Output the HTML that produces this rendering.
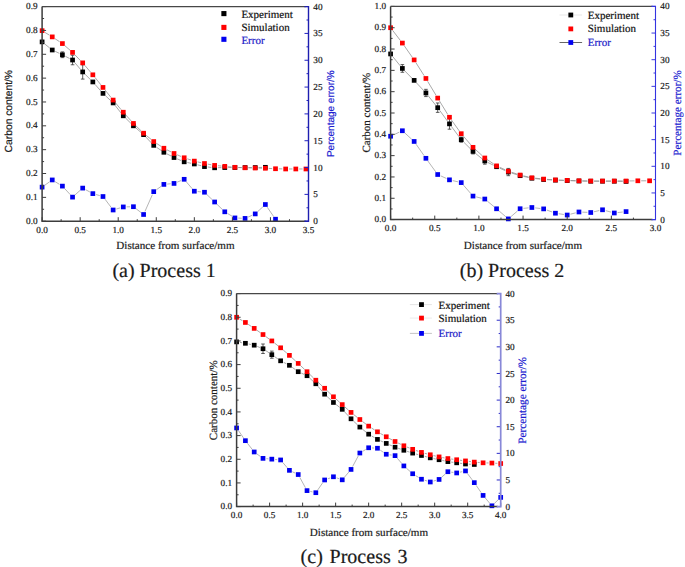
<!DOCTYPE html>
<html><head><meta charset="utf-8"><title>Carbon content profiles</title>
<style>html,body{margin:0;padding:0;background:#fff;}body{width:685px;height:567px;overflow:hidden;}svg{display:block;font-family:"Liberation Serif", serif;text-rendering:geometricPrecision;}text{stroke-width:0.2px;stroke-linejoin:round;}</style></head><body>
<svg width="685" height="567" viewBox="0 0 685 567" fill="#1a1a1a">
<rect width="685" height="567" fill="#fff"/>
<path d="M44.83 185.2L49.51 181.88M55.11 181.68L59.53 184.37M64.67 188.57L70.27 194.65M75.05 194.89L80.19 190.32M85.64 189.7L89.9 192.02M96.06 194.54L99.77 195.6M105.01 199.2L111.12 207.31M116.35 209.02L120.08 207.9M126.64 206.86L130.09 206.79M136.1 208.75L140.93 212.46M144.95 211.43L152.37 194.7M156.46 189.69L161.16 186.34M167.22 184.08L170.7 183.75M177.13 182.17L181.08 180.56M186.35 181.85L192.16 188.66M197.66 191.54L201.14 191.89M206.89 194.55L212.21 199.67M217.03 204.32L222.37 209.48M227.64 213.54L232.05 216.2M238.27 218.09L241.73 218.25M248.13 217.05L252.16 215.26M257.68 211.63L262.91 206.79M267.27 207.27L273.61 216.46" fill="none" stroke="#9c9c9c" stroke-width="0.75"/>
<path d="M44.72 43.98L49.63 47.91M55.28 51.42L59.37 53.34M65.37 56.3L69.57 58.47M74.72 62.56L80.52 69.38M85.08 74.29L90.46 79.6M95.07 84.45L100.77 90.89M105.43 95.69L110.7 100.64M115.21 105.56L121.21 113.18M125.67 118.16L131.05 123.47M135.97 128.02L141.06 132.45M145.89 137.08L151.43 142.94M156.5 147.26L161.11 150.4M166.86 153.83L171.06 156M177.12 158.84L181.09 160.52M187.46 162.52L191.05 163.28M197.57 164.81L201.23 165.76M207.8 166.99L211.3 167.4M217.97 167.71L221.43 167.63M228.12 167.55L231.57 167.55M238.27 167.55L241.72 167.55M248.42 167.55L251.87 167.55M258.57 167.47L262.02 167.39" fill="none" stroke="#8c8c8c" stroke-width="0.75"/>
<path d="M44.96 32.43L49.39 35.14M55.05 38.72L59.6 41.72M64.93 45.76L70.02 50.18M74.87 54.79L80.37 60.47M84.87 65.42L90.67 72.24M94.94 77.41L100.89 84.82M105.09 90.04L111.04 97.46M115.29 102.64L121.14 109.66M125.54 114.71L131.19 120.95M135.85 125.76L141.17 130.89M146.17 135.34L151.15 139.43M156.53 143.4L161.08 146.39M166.86 149.77L171.06 151.94M177.12 154.79L181.09 156.47M187.36 158.82L191.15 160.07M197.59 161.88L201.22 162.73M207.77 164.12L211.33 164.79M217.96 165.72L221.44 166.04M228.11 166.67L231.59 167M238.27 167.47L241.73 167.63M248.42 167.87L251.87 167.95M258.57 168.11L262.02 168.19M268.71 168.42L272.17 168.58M278.87 168.82L282.32 168.9M289.02 168.98L292.46 168.98M299.16 168.98L302.61 168.98" fill="none" stroke="#8c8c8c" stroke-width="0.75"/>
<path d="M62.4 51.9V57.63M60.6 51.9H64.2M60.6 57.63H64.2" stroke="#333" stroke-width="0.8" fill="none"/>
<path d="M72.55 55.24V64.78M70.75 55.24H74.35M70.75 64.78H74.35" stroke="#333" stroke-width="0.8" fill="none"/>
<path d="M82.69 64.78V79.09M80.89 64.78H84.49M80.89 79.09H84.49" stroke="#333" stroke-width="0.8" fill="none"/>
<rect x="39.75" y="39.54" width="4.7" height="4.7" fill="#000"/>
<rect x="49.9" y="47.65" width="4.7" height="4.7" fill="#000"/>
<rect x="60.05" y="52.42" width="4.7" height="4.7" fill="#000"/>
<rect x="70.2" y="57.66" width="4.7" height="4.7" fill="#000"/>
<rect x="80.34" y="69.58" width="4.7" height="4.7" fill="#000"/>
<rect x="90.49" y="79.6" width="4.7" height="4.7" fill="#000"/>
<rect x="100.64" y="91.04" width="4.7" height="4.7" fill="#000"/>
<rect x="110.79" y="100.58" width="4.7" height="4.7" fill="#000"/>
<rect x="120.94" y="113.46" width="4.7" height="4.7" fill="#000"/>
<rect x="131.09" y="123.47" width="4.7" height="4.7" fill="#000"/>
<rect x="141.24" y="132.29" width="4.7" height="4.7" fill="#000"/>
<rect x="151.38" y="143.02" width="4.7" height="4.7" fill="#000"/>
<rect x="161.53" y="149.94" width="4.7" height="4.7" fill="#000"/>
<rect x="171.68" y="155.19" width="4.7" height="4.7" fill="#000"/>
<rect x="181.83" y="159.48" width="4.7" height="4.7" fill="#000"/>
<rect x="191.98" y="161.62" width="4.7" height="4.7" fill="#000"/>
<rect x="202.13" y="164.25" width="4.7" height="4.7" fill="#000"/>
<rect x="212.28" y="165.44" width="4.7" height="4.7" fill="#000"/>
<rect x="222.42" y="165.2" width="4.7" height="4.7" fill="#000"/>
<rect x="232.57" y="165.2" width="4.7" height="4.7" fill="#000"/>
<rect x="242.72" y="165.2" width="4.7" height="4.7" fill="#000"/>
<rect x="252.87" y="165.2" width="4.7" height="4.7" fill="#000"/>
<rect x="263.02" y="164.96" width="4.7" height="4.7" fill="#000"/>
<rect x="39.75" y="28.33" width="4.7" height="4.7" fill="#f00"/>
<rect x="49.9" y="34.53" width="4.7" height="4.7" fill="#f00"/>
<rect x="60.05" y="41.21" width="4.7" height="4.7" fill="#f00"/>
<rect x="70.2" y="50.03" width="4.7" height="4.7" fill="#f00"/>
<rect x="80.34" y="60.52" width="4.7" height="4.7" fill="#f00"/>
<rect x="90.49" y="72.45" width="4.7" height="4.7" fill="#f00"/>
<rect x="100.64" y="85.08" width="4.7" height="4.7" fill="#f00"/>
<rect x="110.79" y="97.72" width="4.7" height="4.7" fill="#f00"/>
<rect x="120.94" y="109.88" width="4.7" height="4.7" fill="#f00"/>
<rect x="131.09" y="121.09" width="4.7" height="4.7" fill="#f00"/>
<rect x="141.24" y="130.86" width="4.7" height="4.7" fill="#f00"/>
<rect x="151.38" y="139.21" width="4.7" height="4.7" fill="#f00"/>
<rect x="161.53" y="145.89" width="4.7" height="4.7" fill="#f00"/>
<rect x="171.68" y="151.13" width="4.7" height="4.7" fill="#f00"/>
<rect x="181.83" y="155.42" width="4.7" height="4.7" fill="#f00"/>
<rect x="191.98" y="158.76" width="4.7" height="4.7" fill="#f00"/>
<rect x="202.13" y="161.15" width="4.7" height="4.7" fill="#f00"/>
<rect x="212.28" y="163.05" width="4.7" height="4.7" fill="#f00"/>
<rect x="222.42" y="164.01" width="4.7" height="4.7" fill="#f00"/>
<rect x="232.57" y="164.96" width="4.7" height="4.7" fill="#f00"/>
<rect x="242.72" y="165.44" width="4.7" height="4.7" fill="#f00"/>
<rect x="252.87" y="165.68" width="4.7" height="4.7" fill="#f00"/>
<rect x="263.02" y="165.92" width="4.7" height="4.7" fill="#f00"/>
<rect x="273.17" y="166.39" width="4.7" height="4.7" fill="#f00"/>
<rect x="283.32" y="166.63" width="4.7" height="4.7" fill="#f00"/>
<rect x="293.46" y="166.63" width="4.7" height="4.7" fill="#f00"/>
<rect x="303.61" y="166.63" width="4.7" height="4.7" fill="#f00"/>
<rect x="39.75" y="184.78" width="4.7" height="4.7" fill="#0000f0"/>
<rect x="49.9" y="177.59" width="4.7" height="4.7" fill="#0000f0"/>
<rect x="60.05" y="183.76" width="4.7" height="4.7" fill="#0000f0"/>
<rect x="70.2" y="194.76" width="4.7" height="4.7" fill="#0000f0"/>
<rect x="80.34" y="185.75" width="4.7" height="4.7" fill="#0000f0"/>
<rect x="90.49" y="191.27" width="4.7" height="4.7" fill="#0000f0"/>
<rect x="100.64" y="194.17" width="4.7" height="4.7" fill="#0000f0"/>
<rect x="110.79" y="207.64" width="4.7" height="4.7" fill="#0000f0"/>
<rect x="120.94" y="204.58" width="4.7" height="4.7" fill="#0000f0"/>
<rect x="131.09" y="204.36" width="4.7" height="4.7" fill="#0000f0"/>
<rect x="141.24" y="212.14" width="4.7" height="4.7" fill="#0000f0"/>
<rect x="151.38" y="189.29" width="4.7" height="4.7" fill="#0000f0"/>
<rect x="161.53" y="182.05" width="4.7" height="4.7" fill="#0000f0"/>
<rect x="171.68" y="181.08" width="4.7" height="4.7" fill="#0000f0"/>
<rect x="181.83" y="176.95" width="4.7" height="4.7" fill="#0000f0"/>
<rect x="191.98" y="188.86" width="4.7" height="4.7" fill="#0000f0"/>
<rect x="202.13" y="189.88" width="4.7" height="4.7" fill="#0000f0"/>
<rect x="212.28" y="199.64" width="4.7" height="4.7" fill="#0000f0"/>
<rect x="222.42" y="209.46" width="4.7" height="4.7" fill="#0000f0"/>
<rect x="232.57" y="215.58" width="4.7" height="4.7" fill="#0000f0"/>
<rect x="242.72" y="216.06" width="4.7" height="4.7" fill="#0000f0"/>
<rect x="252.87" y="211.55" width="4.7" height="4.7" fill="#0000f0"/>
<rect x="263.02" y="202.16" width="4.7" height="4.7" fill="#0000f0"/>
<rect x="273.17" y="216.86" width="4.7" height="4.7" fill="#0000f0"/>
<line x1="42.1" y1="221.2" x2="46.1" y2="221.2" stroke="#3c3c3c" stroke-width="1"/>
<line x1="42.1" y1="209.28" x2="44.1" y2="209.28" stroke="#3c3c3c" stroke-width="1"/>
<line x1="42.1" y1="197.36" x2="46.1" y2="197.36" stroke="#3c3c3c" stroke-width="1"/>
<line x1="42.1" y1="185.43" x2="44.1" y2="185.43" stroke="#3c3c3c" stroke-width="1"/>
<line x1="42.1" y1="173.51" x2="46.1" y2="173.51" stroke="#3c3c3c" stroke-width="1"/>
<line x1="42.1" y1="161.59" x2="44.1" y2="161.59" stroke="#3c3c3c" stroke-width="1"/>
<line x1="42.1" y1="149.67" x2="46.1" y2="149.67" stroke="#3c3c3c" stroke-width="1"/>
<line x1="42.1" y1="137.74" x2="44.1" y2="137.74" stroke="#3c3c3c" stroke-width="1"/>
<line x1="42.1" y1="125.82" x2="46.1" y2="125.82" stroke="#3c3c3c" stroke-width="1"/>
<line x1="42.1" y1="113.9" x2="44.1" y2="113.9" stroke="#3c3c3c" stroke-width="1"/>
<line x1="42.1" y1="101.98" x2="46.1" y2="101.98" stroke="#3c3c3c" stroke-width="1"/>
<line x1="42.1" y1="90.06" x2="44.1" y2="90.06" stroke="#3c3c3c" stroke-width="1"/>
<line x1="42.1" y1="78.13" x2="46.1" y2="78.13" stroke="#3c3c3c" stroke-width="1"/>
<line x1="42.1" y1="66.21" x2="44.1" y2="66.21" stroke="#3c3c3c" stroke-width="1"/>
<line x1="42.1" y1="54.29" x2="46.1" y2="54.29" stroke="#3c3c3c" stroke-width="1"/>
<line x1="42.1" y1="42.37" x2="44.1" y2="42.37" stroke="#3c3c3c" stroke-width="1"/>
<line x1="42.1" y1="30.44" x2="46.1" y2="30.44" stroke="#3c3c3c" stroke-width="1"/>
<line x1="42.1" y1="18.52" x2="44.1" y2="18.52" stroke="#3c3c3c" stroke-width="1"/>
<line x1="42.1" y1="6.6" x2="46.1" y2="6.6" stroke="#3c3c3c" stroke-width="1"/>
<line x1="42.1" y1="221.2" x2="42.1" y2="217.2" stroke="#3c3c3c" stroke-width="1"/>
<line x1="61.13" y1="221.2" x2="61.13" y2="219.2" stroke="#3c3c3c" stroke-width="1"/>
<line x1="80.16" y1="221.2" x2="80.16" y2="217.2" stroke="#3c3c3c" stroke-width="1"/>
<line x1="99.19" y1="221.2" x2="99.19" y2="219.2" stroke="#3c3c3c" stroke-width="1"/>
<line x1="118.21" y1="221.2" x2="118.21" y2="217.2" stroke="#3c3c3c" stroke-width="1"/>
<line x1="137.24" y1="221.2" x2="137.24" y2="219.2" stroke="#3c3c3c" stroke-width="1"/>
<line x1="156.27" y1="221.2" x2="156.27" y2="217.2" stroke="#3c3c3c" stroke-width="1"/>
<line x1="175.3" y1="221.2" x2="175.3" y2="219.2" stroke="#3c3c3c" stroke-width="1"/>
<line x1="194.33" y1="221.2" x2="194.33" y2="217.2" stroke="#3c3c3c" stroke-width="1"/>
<line x1="213.36" y1="221.2" x2="213.36" y2="219.2" stroke="#3c3c3c" stroke-width="1"/>
<line x1="232.39" y1="221.2" x2="232.39" y2="217.2" stroke="#3c3c3c" stroke-width="1"/>
<line x1="251.41" y1="221.2" x2="251.41" y2="219.2" stroke="#3c3c3c" stroke-width="1"/>
<line x1="270.44" y1="221.2" x2="270.44" y2="217.2" stroke="#3c3c3c" stroke-width="1"/>
<line x1="289.47" y1="221.2" x2="289.47" y2="219.2" stroke="#3c3c3c" stroke-width="1"/>
<line x1="308.5" y1="221.2" x2="308.5" y2="217.2" stroke="#3c3c3c" stroke-width="1"/>
<line x1="308.5" y1="221.2" x2="304.5" y2="221.2" stroke="#2020c0" stroke-width="1"/>
<line x1="308.5" y1="207.79" x2="306.5" y2="207.79" stroke="#2020c0" stroke-width="1"/>
<line x1="308.5" y1="194.38" x2="304.5" y2="194.38" stroke="#2020c0" stroke-width="1"/>
<line x1="308.5" y1="180.96" x2="306.5" y2="180.96" stroke="#2020c0" stroke-width="1"/>
<line x1="308.5" y1="167.55" x2="304.5" y2="167.55" stroke="#2020c0" stroke-width="1"/>
<line x1="308.5" y1="154.14" x2="306.5" y2="154.14" stroke="#2020c0" stroke-width="1"/>
<line x1="308.5" y1="140.72" x2="304.5" y2="140.72" stroke="#2020c0" stroke-width="1"/>
<line x1="308.5" y1="127.31" x2="306.5" y2="127.31" stroke="#2020c0" stroke-width="1"/>
<line x1="308.5" y1="113.9" x2="304.5" y2="113.9" stroke="#2020c0" stroke-width="1"/>
<line x1="308.5" y1="100.49" x2="306.5" y2="100.49" stroke="#2020c0" stroke-width="1"/>
<line x1="308.5" y1="87.07" x2="304.5" y2="87.07" stroke="#2020c0" stroke-width="1"/>
<line x1="308.5" y1="73.66" x2="306.5" y2="73.66" stroke="#2020c0" stroke-width="1"/>
<line x1="308.5" y1="60.25" x2="304.5" y2="60.25" stroke="#2020c0" stroke-width="1"/>
<line x1="308.5" y1="46.84" x2="306.5" y2="46.84" stroke="#2020c0" stroke-width="1"/>
<line x1="308.5" y1="33.42" x2="304.5" y2="33.42" stroke="#2020c0" stroke-width="1"/>
<line x1="308.5" y1="20.01" x2="306.5" y2="20.01" stroke="#2020c0" stroke-width="1"/>
<line x1="308.5" y1="6.6" x2="304.5" y2="6.6" stroke="#2020c0" stroke-width="1"/>
<path d="M42.1 6.6V221.2H305.5" fill="none" stroke="#3c3c3c" stroke-width="1.5"/>
<path d="M42.1 6.6H305.5" fill="none" stroke="#474747" stroke-width="1.2"/>
<path d="M304.5 6.6H308.5V221.2H304.5" fill="none" stroke="#1e1eb0" stroke-width="1.4"/>
<text x="37.6" y="223.83" text-anchor="end" font-size="9.2" stroke="#1a1a1a">0.0</text>
<text x="37.6" y="199.98" text-anchor="end" font-size="9.2" stroke="#1a1a1a">0.1</text>
<text x="37.6" y="176.14" text-anchor="end" font-size="9.2" stroke="#1a1a1a">0.2</text>
<text x="37.6" y="152.29" text-anchor="end" font-size="9.2" stroke="#1a1a1a">0.3</text>
<text x="37.6" y="128.45" text-anchor="end" font-size="9.2" stroke="#1a1a1a">0.4</text>
<text x="37.6" y="104.61" text-anchor="end" font-size="9.2" stroke="#1a1a1a">0.5</text>
<text x="37.6" y="80.76" text-anchor="end" font-size="9.2" stroke="#1a1a1a">0.6</text>
<text x="37.6" y="56.92" text-anchor="end" font-size="9.2" stroke="#1a1a1a">0.7</text>
<text x="37.6" y="33.07" text-anchor="end" font-size="9.2" stroke="#1a1a1a">0.8</text>
<text x="37.6" y="9.23" text-anchor="end" font-size="9.2" stroke="#1a1a1a">0.9</text>
<text x="42.1" y="232.7" text-anchor="middle" font-size="9.2" stroke="#1a1a1a">0.0</text>
<text x="80.16" y="232.7" text-anchor="middle" font-size="9.2" stroke="#1a1a1a">0.5</text>
<text x="118.21" y="232.7" text-anchor="middle" font-size="9.2" stroke="#1a1a1a">1.0</text>
<text x="156.27" y="232.7" text-anchor="middle" font-size="9.2" stroke="#1a1a1a">1.5</text>
<text x="194.33" y="232.7" text-anchor="middle" font-size="9.2" stroke="#1a1a1a">2.0</text>
<text x="232.39" y="232.7" text-anchor="middle" font-size="9.2" stroke="#1a1a1a">2.5</text>
<text x="270.44" y="232.7" text-anchor="middle" font-size="9.2" stroke="#1a1a1a">3.0</text>
<text x="308.5" y="232.7" text-anchor="middle" font-size="9.2" stroke="#1a1a1a">3.5</text>
<text x="313.3" y="224.23" font-size="9.2" stroke="#1a1a1a">0</text>
<text x="313.3" y="197.4" font-size="9.2" stroke="#1a1a1a">5</text>
<text x="313.3" y="170.58" font-size="9.2" stroke="#1a1a1a">10</text>
<text x="313.3" y="143.75" font-size="9.2" stroke="#1a1a1a">15</text>
<text x="313.3" y="116.93" font-size="9.2" stroke="#1a1a1a">20</text>
<text x="313.3" y="90.1" font-size="9.2" stroke="#1a1a1a">25</text>
<text x="313.3" y="63.28" font-size="9.2" stroke="#1a1a1a">30</text>
<text x="313.3" y="36.45" font-size="9.2" stroke="#1a1a1a">35</text>
<text x="313.3" y="9.63" font-size="9.2" stroke="#1a1a1a">40</text>
<text x="175.5" y="248.6" text-anchor="middle" font-size="11.1" stroke="#1a1a1a">Distance from surface/mm</text>
<text transform="translate(12.2 111.2) rotate(-90)" text-anchor="middle" font-size="10.3" font-family='"Liberation Sans", sans-serif' stroke="#1a1a1a">Carbon content/%</text>
<text transform="translate(333.9 113.7) rotate(-90)" text-anchor="middle" font-size="10.0" font-family='"Liberation Sans", sans-serif' fill="#1c1cd0" stroke="#1c1cd0">Percentage error/%</text>
<rect x="221.35" y="11.05" width="5.1" height="5.1" fill="#000"/>
<text x="241.4" y="17.7" font-size="11" fill="#111" stroke="#111">Experiment</text>
<rect x="221.35" y="24.85" width="5.1" height="5.1" fill="#f00"/>
<text x="241.4" y="31.2" font-size="11" fill="#111" stroke="#111">Simulation</text>
<rect x="221.35" y="36.75" width="5.1" height="5.1" fill="#0000f0"/>
<text x="241.4" y="43.9" font-size="11" fill="#1c1cc8" stroke="#1c1cc8">Error</text>
<text x="112.4" y="276.9" font-size="20" word-spacing="0" stroke="#1a1a1a">(a) Process 1</text>
<path d="M393.64 134.82L399.34 132.16M404.85 133L411.67 139.21M416.07 144.21L424 155.56M427.89 161.02L435.72 171.8M440.75 175.89L446.41 178.46M452.73 180.61L457.98 181.84M463.44 185.13L470.81 193.57M476.26 196.9L481.54 198.22M487.37 201.16L493.98 206.64M499.1 210.96L505.79 216.72M510.87 216.72L517.57 210.92M523.44 208.38L528.55 207.85M535.21 207.89L540.33 208.5M546.8 210.04L552.28 212.05M558.74 213.71L563.89 214.51M570.44 214.18L575.73 212.82M582.32 212.13L587.4 212.36M594.01 211.76L599.26 210.55M605.75 210.67L611.06 212.11M617.62 212.6L622.74 212" fill="none" stroke="#9c9c9c" stroke-width="0.75"/>
<path d="M392.71 56.54L400.26 65.84M404.73 70.83L411.79 78M416.44 82.83L423.63 90.51M428.01 95.57L435.6 105.05M439.66 110.38L447.5 121.16M451.47 126.56L459.24 136.97M463.61 142.01L470.64 149.01M475.61 153.49L482.19 158.85M487.8 162.44L493.55 165.25M499.61 168.11L505.28 170.67M511.54 173.04L516.9 174.7M523.38 176.39L528.61 177.53M535.21 178.6L540.32 179.16M547 179.7L552.08 179.98M558.77 180.28L563.85 180.46M570.55 180.71L575.63 180.89M582.32 181.07L587.4 181.16M594.1 181.22L599.17 181.22M605.87 181.22L610.94 181.22M617.64 181.28L622.72 181.38" fill="none" stroke="#8c8c8c" stroke-width="0.75"/>
<path d="M392.64 30.38L400.33 40.41M404.29 45.82L412.23 57.17M415.94 62.74L424.12 75.63M427.64 81.33L435.97 95.2M439.45 100.93L447.71 114.41M451.42 119.99L459.29 130.96M463.43 136.22L470.82 144.79M475.5 149.57L482.3 155.74M487.57 159.85L493.78 164.01M499.61 167.26L505.28 169.82M511.52 172.24L516.92 174M523.37 175.81L528.62 177.05M535.21 178.17L540.32 178.73M546.99 179.33L552.09 179.7M558.77 180.07L563.85 180.25M570.55 180.49L575.63 180.68M582.32 180.86L587.4 180.95M594.1 181.01L599.17 181.01M605.87 181.01L610.94 181.01M617.64 181.01L622.72 181.01M629.42 180.95L634.49 180.86M641.19 180.8L646.26 180.8" fill="none" stroke="#8c8c8c" stroke-width="0.75"/>
<path d="M402.37 64.6V72.28M400.57 64.6H404.17M400.57 72.28H404.17" stroke="#333" stroke-width="0.8" fill="none"/>
<path d="M425.92 89.33V96.58M424.12 89.33H427.72M424.12 96.58H427.72" stroke="#333" stroke-width="0.8" fill="none"/>
<path d="M437.69 102.98V112.36M435.89 102.98H439.49M435.89 112.36H439.49" stroke="#333" stroke-width="0.8" fill="none"/>
<path d="M449.47 118.54V129.2M447.67 118.54H451.27M447.67 129.2H451.27" stroke="#333" stroke-width="0.8" fill="none"/>
<path d="M461.24 137.09V142.21M459.44 137.09H463.04M459.44 142.21H463.04" stroke="#333" stroke-width="0.8" fill="none"/>
<path d="M473.01 148.82V153.93M471.21 148.82H474.81M471.21 153.93H474.81" stroke="#333" stroke-width="0.8" fill="none"/>
<path d="M484.79 157.77V164.17M482.99 157.77H486.59M482.99 164.17H486.59" stroke="#333" stroke-width="0.8" fill="none"/>
<path d="M508.33 168.43V175.68M506.53 168.43H510.13M506.53 175.68H510.13" stroke="#333" stroke-width="0.8" fill="none"/>
<rect x="388.25" y="51.59" width="4.7" height="4.7" fill="#000"/>
<rect x="400.02" y="66.09" width="4.7" height="4.7" fill="#000"/>
<rect x="411.8" y="78.03" width="4.7" height="4.7" fill="#000"/>
<rect x="423.57" y="90.61" width="4.7" height="4.7" fill="#000"/>
<rect x="435.34" y="105.32" width="4.7" height="4.7" fill="#000"/>
<rect x="447.12" y="121.52" width="4.7" height="4.7" fill="#000"/>
<rect x="458.89" y="137.3" width="4.7" height="4.7" fill="#000"/>
<rect x="470.66" y="149.03" width="4.7" height="4.7" fill="#000"/>
<rect x="482.44" y="158.62" width="4.7" height="4.7" fill="#000"/>
<rect x="494.21" y="164.38" width="4.7" height="4.7" fill="#000"/>
<rect x="505.98" y="169.71" width="4.7" height="4.7" fill="#000"/>
<rect x="517.76" y="173.33" width="4.7" height="4.7" fill="#000"/>
<rect x="529.53" y="175.89" width="4.7" height="4.7" fill="#000"/>
<rect x="541.3" y="177.17" width="4.7" height="4.7" fill="#000"/>
<rect x="553.08" y="177.81" width="4.7" height="4.7" fill="#000"/>
<rect x="564.85" y="178.23" width="4.7" height="4.7" fill="#000"/>
<rect x="576.62" y="178.66" width="4.7" height="4.7" fill="#000"/>
<rect x="588.4" y="178.87" width="4.7" height="4.7" fill="#000"/>
<rect x="600.17" y="178.87" width="4.7" height="4.7" fill="#000"/>
<rect x="611.94" y="178.87" width="4.7" height="4.7" fill="#000"/>
<rect x="623.72" y="179.09" width="4.7" height="4.7" fill="#000"/>
<rect x="388.25" y="25.37" width="4.7" height="4.7" fill="#f00"/>
<rect x="400.02" y="40.72" width="4.7" height="4.7" fill="#f00"/>
<rect x="411.8" y="57.56" width="4.7" height="4.7" fill="#f00"/>
<rect x="423.57" y="76.11" width="4.7" height="4.7" fill="#f00"/>
<rect x="435.34" y="95.73" width="4.7" height="4.7" fill="#f00"/>
<rect x="447.12" y="114.91" width="4.7" height="4.7" fill="#f00"/>
<rect x="458.89" y="131.33" width="4.7" height="4.7" fill="#f00"/>
<rect x="470.66" y="144.98" width="4.7" height="4.7" fill="#f00"/>
<rect x="482.44" y="155.64" width="4.7" height="4.7" fill="#f00"/>
<rect x="494.21" y="163.52" width="4.7" height="4.7" fill="#f00"/>
<rect x="505.98" y="168.85" width="4.7" height="4.7" fill="#f00"/>
<rect x="517.76" y="172.69" width="4.7" height="4.7" fill="#f00"/>
<rect x="529.53" y="175.46" width="4.7" height="4.7" fill="#f00"/>
<rect x="541.3" y="176.74" width="4.7" height="4.7" fill="#f00"/>
<rect x="553.08" y="177.59" width="4.7" height="4.7" fill="#f00"/>
<rect x="564.85" y="178.02" width="4.7" height="4.7" fill="#f00"/>
<rect x="576.62" y="178.45" width="4.7" height="4.7" fill="#f00"/>
<rect x="588.4" y="178.66" width="4.7" height="4.7" fill="#f00"/>
<rect x="600.17" y="178.66" width="4.7" height="4.7" fill="#f00"/>
<rect x="611.94" y="178.66" width="4.7" height="4.7" fill="#f00"/>
<rect x="623.72" y="178.66" width="4.7" height="4.7" fill="#f00"/>
<rect x="635.49" y="178.45" width="4.7" height="4.7" fill="#f00"/>
<rect x="647.26" y="178.45" width="4.7" height="4.7" fill="#f00"/>
<rect x="388.25" y="133.89" width="4.7" height="4.7" fill="#0000f0"/>
<rect x="400.02" y="128.4" width="4.7" height="4.7" fill="#0000f0"/>
<rect x="411.8" y="139.11" width="4.7" height="4.7" fill="#0000f0"/>
<rect x="423.57" y="155.96" width="4.7" height="4.7" fill="#0000f0"/>
<rect x="435.34" y="172.16" width="4.7" height="4.7" fill="#0000f0"/>
<rect x="447.12" y="177.49" width="4.7" height="4.7" fill="#0000f0"/>
<rect x="458.89" y="180.26" width="4.7" height="4.7" fill="#0000f0"/>
<rect x="470.66" y="193.74" width="4.7" height="4.7" fill="#0000f0"/>
<rect x="482.44" y="196.68" width="4.7" height="4.7" fill="#0000f0"/>
<rect x="494.21" y="206.43" width="4.7" height="4.7" fill="#0000f0"/>
<rect x="505.98" y="216.56" width="4.7" height="4.7" fill="#0000f0"/>
<rect x="517.76" y="206.38" width="4.7" height="4.7" fill="#0000f0"/>
<rect x="529.53" y="205.15" width="4.7" height="4.7" fill="#0000f0"/>
<rect x="541.3" y="206.54" width="4.7" height="4.7" fill="#0000f0"/>
<rect x="553.08" y="210.85" width="4.7" height="4.7" fill="#0000f0"/>
<rect x="564.85" y="212.67" width="4.7" height="4.7" fill="#0000f0"/>
<rect x="576.62" y="209.63" width="4.7" height="4.7" fill="#0000f0"/>
<rect x="588.4" y="210.16" width="4.7" height="4.7" fill="#0000f0"/>
<rect x="600.17" y="207.44" width="4.7" height="4.7" fill="#0000f0"/>
<rect x="611.94" y="210.64" width="4.7" height="4.7" fill="#0000f0"/>
<rect x="623.72" y="209.25" width="4.7" height="4.7" fill="#0000f0"/>
<line x1="390.6" y1="219.6" x2="394.6" y2="219.6" stroke="#3c3c3c" stroke-width="1"/>
<line x1="390.6" y1="208.94" x2="392.6" y2="208.94" stroke="#3c3c3c" stroke-width="1"/>
<line x1="390.6" y1="198.28" x2="394.6" y2="198.28" stroke="#3c3c3c" stroke-width="1"/>
<line x1="390.6" y1="187.62" x2="392.6" y2="187.62" stroke="#3c3c3c" stroke-width="1"/>
<line x1="390.6" y1="176.96" x2="394.6" y2="176.96" stroke="#3c3c3c" stroke-width="1"/>
<line x1="390.6" y1="166.3" x2="392.6" y2="166.3" stroke="#3c3c3c" stroke-width="1"/>
<line x1="390.6" y1="155.64" x2="394.6" y2="155.64" stroke="#3c3c3c" stroke-width="1"/>
<line x1="390.6" y1="144.98" x2="392.6" y2="144.98" stroke="#3c3c3c" stroke-width="1"/>
<line x1="390.6" y1="134.32" x2="394.6" y2="134.32" stroke="#3c3c3c" stroke-width="1"/>
<line x1="390.6" y1="123.66" x2="392.6" y2="123.66" stroke="#3c3c3c" stroke-width="1"/>
<line x1="390.6" y1="113" x2="394.6" y2="113" stroke="#3c3c3c" stroke-width="1"/>
<line x1="390.6" y1="102.34" x2="392.6" y2="102.34" stroke="#3c3c3c" stroke-width="1"/>
<line x1="390.6" y1="91.68" x2="394.6" y2="91.68" stroke="#3c3c3c" stroke-width="1"/>
<line x1="390.6" y1="81.02" x2="392.6" y2="81.02" stroke="#3c3c3c" stroke-width="1"/>
<line x1="390.6" y1="70.36" x2="394.6" y2="70.36" stroke="#3c3c3c" stroke-width="1"/>
<line x1="390.6" y1="59.7" x2="392.6" y2="59.7" stroke="#3c3c3c" stroke-width="1"/>
<line x1="390.6" y1="49.04" x2="394.6" y2="49.04" stroke="#3c3c3c" stroke-width="1"/>
<line x1="390.6" y1="38.38" x2="392.6" y2="38.38" stroke="#3c3c3c" stroke-width="1"/>
<line x1="390.6" y1="27.72" x2="394.6" y2="27.72" stroke="#3c3c3c" stroke-width="1"/>
<line x1="390.6" y1="17.06" x2="392.6" y2="17.06" stroke="#3c3c3c" stroke-width="1"/>
<line x1="390.6" y1="6.4" x2="394.6" y2="6.4" stroke="#3c3c3c" stroke-width="1"/>
<line x1="390.6" y1="219.6" x2="390.6" y2="215.6" stroke="#3c3c3c" stroke-width="1"/>
<line x1="412.68" y1="219.6" x2="412.68" y2="217.6" stroke="#3c3c3c" stroke-width="1"/>
<line x1="434.75" y1="219.6" x2="434.75" y2="215.6" stroke="#3c3c3c" stroke-width="1"/>
<line x1="456.83" y1="219.6" x2="456.83" y2="217.6" stroke="#3c3c3c" stroke-width="1"/>
<line x1="478.9" y1="219.6" x2="478.9" y2="215.6" stroke="#3c3c3c" stroke-width="1"/>
<line x1="500.98" y1="219.6" x2="500.98" y2="217.6" stroke="#3c3c3c" stroke-width="1"/>
<line x1="523.05" y1="219.6" x2="523.05" y2="215.6" stroke="#3c3c3c" stroke-width="1"/>
<line x1="545.12" y1="219.6" x2="545.12" y2="217.6" stroke="#3c3c3c" stroke-width="1"/>
<line x1="567.2" y1="219.6" x2="567.2" y2="215.6" stroke="#3c3c3c" stroke-width="1"/>
<line x1="589.27" y1="219.6" x2="589.27" y2="217.6" stroke="#3c3c3c" stroke-width="1"/>
<line x1="611.35" y1="219.6" x2="611.35" y2="215.6" stroke="#3c3c3c" stroke-width="1"/>
<line x1="633.42" y1="219.6" x2="633.42" y2="217.6" stroke="#3c3c3c" stroke-width="1"/>
<line x1="655.5" y1="219.6" x2="655.5" y2="215.6" stroke="#3c3c3c" stroke-width="1"/>
<line x1="655.5" y1="219.6" x2="651.5" y2="219.6" stroke="#3a3ae0" stroke-width="1"/>
<line x1="655.5" y1="206.28" x2="653.5" y2="206.28" stroke="#3a3ae0" stroke-width="1"/>
<line x1="655.5" y1="192.95" x2="651.5" y2="192.95" stroke="#3a3ae0" stroke-width="1"/>
<line x1="655.5" y1="179.62" x2="653.5" y2="179.62" stroke="#3a3ae0" stroke-width="1"/>
<line x1="655.5" y1="166.3" x2="651.5" y2="166.3" stroke="#3a3ae0" stroke-width="1"/>
<line x1="655.5" y1="152.97" x2="653.5" y2="152.97" stroke="#3a3ae0" stroke-width="1"/>
<line x1="655.5" y1="139.65" x2="651.5" y2="139.65" stroke="#3a3ae0" stroke-width="1"/>
<line x1="655.5" y1="126.32" x2="653.5" y2="126.32" stroke="#3a3ae0" stroke-width="1"/>
<line x1="655.5" y1="113" x2="651.5" y2="113" stroke="#3a3ae0" stroke-width="1"/>
<line x1="655.5" y1="99.67" x2="653.5" y2="99.67" stroke="#3a3ae0" stroke-width="1"/>
<line x1="655.5" y1="86.35" x2="651.5" y2="86.35" stroke="#3a3ae0" stroke-width="1"/>
<line x1="655.5" y1="73.03" x2="653.5" y2="73.03" stroke="#3a3ae0" stroke-width="1"/>
<line x1="655.5" y1="59.7" x2="651.5" y2="59.7" stroke="#3a3ae0" stroke-width="1"/>
<line x1="655.5" y1="46.38" x2="653.5" y2="46.38" stroke="#3a3ae0" stroke-width="1"/>
<line x1="655.5" y1="33.05" x2="651.5" y2="33.05" stroke="#3a3ae0" stroke-width="1"/>
<line x1="655.5" y1="19.72" x2="653.5" y2="19.72" stroke="#3a3ae0" stroke-width="1"/>
<line x1="655.5" y1="6.4" x2="651.5" y2="6.4" stroke="#3a3ae0" stroke-width="1"/>
<path d="M390.6 6.4V219.6H652.5" fill="none" stroke="#3c3c3c" stroke-width="1.5"/>
<path d="M390.6 6.4H652.5" fill="none" stroke="#474747" stroke-width="1.2"/>
<path d="M651.5 6.4H655.5V219.6H651.5" fill="none" stroke="#3434e0" stroke-width="1.1"/>
<text x="386.1" y="222.23" text-anchor="end" font-size="9.2" stroke="#1a1a1a">0.0</text>
<text x="386.1" y="200.91" text-anchor="end" font-size="9.2" stroke="#1a1a1a">0.1</text>
<text x="386.1" y="179.59" text-anchor="end" font-size="9.2" stroke="#1a1a1a">0.2</text>
<text x="386.1" y="158.27" text-anchor="end" font-size="9.2" stroke="#1a1a1a">0.3</text>
<text x="386.1" y="136.95" text-anchor="end" font-size="9.2" stroke="#1a1a1a">0.4</text>
<text x="386.1" y="115.63" text-anchor="end" font-size="9.2" stroke="#1a1a1a">0.5</text>
<text x="386.1" y="94.31" text-anchor="end" font-size="9.2" stroke="#1a1a1a">0.6</text>
<text x="386.1" y="72.99" text-anchor="end" font-size="9.2" stroke="#1a1a1a">0.7</text>
<text x="386.1" y="51.67" text-anchor="end" font-size="9.2" stroke="#1a1a1a">0.8</text>
<text x="386.1" y="30.35" text-anchor="end" font-size="9.2" stroke="#1a1a1a">0.9</text>
<text x="386.1" y="9.03" text-anchor="end" font-size="9.2" stroke="#1a1a1a">1.0</text>
<text x="390.6" y="231.1" text-anchor="middle" font-size="9.2" stroke="#1a1a1a">0.0</text>
<text x="434.75" y="231.1" text-anchor="middle" font-size="9.2" stroke="#1a1a1a">0.5</text>
<text x="478.9" y="231.1" text-anchor="middle" font-size="9.2" stroke="#1a1a1a">1.0</text>
<text x="523.05" y="231.1" text-anchor="middle" font-size="9.2" stroke="#1a1a1a">1.5</text>
<text x="567.2" y="231.1" text-anchor="middle" font-size="9.2" stroke="#1a1a1a">2.0</text>
<text x="611.35" y="231.1" text-anchor="middle" font-size="9.2" stroke="#1a1a1a">2.5</text>
<text x="655.5" y="231.1" text-anchor="middle" font-size="9.2" stroke="#1a1a1a">3.0</text>
<text x="660.3" y="222.63" font-size="9.2" stroke="#1a1a1a">0</text>
<text x="660.3" y="195.98" font-size="9.2" stroke="#1a1a1a">5</text>
<text x="660.3" y="169.33" font-size="9.2" stroke="#1a1a1a">10</text>
<text x="660.3" y="142.68" font-size="9.2" stroke="#1a1a1a">15</text>
<text x="660.3" y="116.03" font-size="9.2" stroke="#1a1a1a">20</text>
<text x="660.3" y="89.38" font-size="9.2" stroke="#1a1a1a">25</text>
<text x="660.3" y="62.73" font-size="9.2" stroke="#1a1a1a">30</text>
<text x="660.3" y="36.08" font-size="9.2" stroke="#1a1a1a">35</text>
<text x="660.3" y="9.43" font-size="9.2" stroke="#1a1a1a">40</text>
<text x="523" y="248.8" text-anchor="middle" font-size="11.1" stroke="#1a1a1a">Distance from surface/mm</text>
<text transform="translate(370.3 112.7) rotate(-90)" text-anchor="middle" font-size="11" font-family='"Liberation Serif", serif' stroke="#1a1a1a">Carbon content/%</text>
<text transform="translate(681.4 113) rotate(-90)" text-anchor="middle" font-size="11.1" font-family='"Liberation Serif", serif' fill="#1c1cd0" stroke="#1c1cd0">Percentage error/%</text>
<line x1="559.5" y1="15" x2="582.1" y2="15" stroke="#e4e4e4" stroke-width="0.9"/>
<rect x="568.4" y="12.6" width="4.8" height="4.8" fill="#000"/>
<text x="587.7" y="19" font-size="11" fill="#111" stroke="#111">Experiment</text>
<rect x="568.4" y="26.5" width="4.8" height="4.8" fill="#f00"/>
<text x="587.7" y="32.4" font-size="11" fill="#111" stroke="#111">Simulation</text>
<line x1="559.5" y1="42.5" x2="582.1" y2="42.5" stroke="#555" stroke-width="0.9"/>
<rect x="568.4" y="40.1" width="4.8" height="4.8" fill="#0000f0"/>
<text x="587.7" y="46" font-size="11" fill="#1c1cc8" stroke="#1c1cc8">Error</text>
<text x="459.8" y="276.5" font-size="20" word-spacing="0" stroke="#1a1a1a">(b) Process 2</text>
<path d="M238.51 430.7L243.5 437.92M247.46 443.32L252.15 449.32M256.92 453.93L260.3 456.39M266.35 458.66L268.48 458.85M275.15 459.46L277.28 459.65M282.78 462.51L287.25 467.78M292.44 471.78L295.2 473.1M299.83 477.48L305.42 487.69M310.29 491.39L312.57 491.93M317.74 489.95L322.73 482.73M327.78 478.83L330.29 477.92M336.6 477.87L339.07 478.72M344.41 477.26L348.88 471.99M352.63 466.48L358.26 455.98M362.72 451.31L365.78 449.48M372 447.94L374.11 448.06M380.22 450.13L383.49 452.36M389.57 454.78L391.75 455.12M397.24 458.18L401.68 463.37M406.37 468.14L410.16 471.52M415.51 475.52L418.63 477.46M424.67 480.23L427.08 480.99M433.49 481.06L435.86 480.38M441.6 477.23L445.36 473.93M451.2 472.18L453.37 472.48M459.95 472.2L462.22 471.67M467.5 473.6L472.28 479.96M476.19 485.4L481.19 492.66M485.26 497.97L489.73 503.25M494.32 503.49L498.28 499.7" fill="none" stroke="#9c9c9c" stroke-width="0.75"/>
<path d="M239.91 342.41L242.1 342.77M248.68 344L250.93 344.49M257.31 346.45L259.9 347.49M265.79 350.61L269.03 352.79M274.56 356.58L277.87 358.89M283.6 362.34L286.44 363.79M292.13 367.28L295.51 369.73M301.27 373.09L303.98 374.33M309.5 377.98L313.36 381.51M317.99 386.33L322.47 391.63M327.07 396.48L331 400.17M336.08 404.53L339.6 407.27M344.52 411.78L348.76 416.34M353.48 421.09L357.41 424.78M362.45 429.18L366.04 432.08M371.53 435.89L374.57 437.68M380.5 440.78L383.21 442.02M389.33 444.73L391.98 445.87M398.22 448.3L400.7 449.17M407.05 451.3L409.48 452.08M415.9 453.98L418.23 454.61M424.71 456.35L427.04 456.98M433.55 458.55L435.8 459.04M442.35 460.44L444.6 460.93M451.2 462.08L453.36 462.37M460 463.26L462.17 463.55M468.83 464.18L470.94 464.29" fill="none" stroke="#8c8c8c" stroke-width="0.75"/>
<path d="M239.48 318.97L242.52 320.77M248.18 324.34L251.43 326.52M256.95 330.31L260.26 332.62M265.72 336.51L269.1 338.97M274.46 342.99L277.97 345.74M283.16 349.98L286.88 353.19M291.89 357.63L295.75 361.16M300.66 365.71L304.59 369.4M309.43 374.03L313.42 377.89M318.3 382.48L322.16 386.01M327.04 390.6L331.03 394.46M335.94 399.01L339.73 402.37M344.75 406.82L348.54 410.18M353.65 414.51L357.24 417.4M362.52 421.52L365.97 424.12M371.46 427.95L374.64 430M380.37 433.46L383.34 435.14M389.21 438.37L392.11 439.93M398.08 442.98L400.85 444.32M406.97 447.03L409.56 448.07M415.83 450.43L418.31 451.3M424.71 453.27L427.04 453.9M433.53 455.56L435.82 456.11M442.37 457.52L444.59 457.94M451.2 459L453.36 459.29M460 460.19L462.17 460.48M468.81 461.37L470.97 461.66M477.63 462.38L479.75 462.55M486.44 462.91L488.55 462.96M495.24 463.23L497.35 463.35" fill="none" stroke="#8c8c8c" stroke-width="0.75"/>
<path d="M263.01 344.01V353.48M261.21 344.01H264.81M261.21 353.48H264.81" stroke="#333" stroke-width="0.8" fill="none"/>
<path d="M271.81 351.11V358.21M270.01 351.11H273.61M270.01 358.21H273.61" stroke="#333" stroke-width="0.8" fill="none"/>
<rect x="234.25" y="339.53" width="4.7" height="4.7" fill="#000"/>
<rect x="243.05" y="340.95" width="4.7" height="4.7" fill="#000"/>
<rect x="251.86" y="342.84" width="4.7" height="4.7" fill="#000"/>
<rect x="260.66" y="346.39" width="4.7" height="4.7" fill="#000"/>
<rect x="269.46" y="352.31" width="4.7" height="4.7" fill="#000"/>
<rect x="278.27" y="358.46" width="4.7" height="4.7" fill="#000"/>
<rect x="287.07" y="362.96" width="4.7" height="4.7" fill="#000"/>
<rect x="295.87" y="369.35" width="4.7" height="4.7" fill="#000"/>
<rect x="304.68" y="373.37" width="4.7" height="4.7" fill="#000"/>
<rect x="313.48" y="381.42" width="4.7" height="4.7" fill="#000"/>
<rect x="322.28" y="391.83" width="4.7" height="4.7" fill="#000"/>
<rect x="331.09" y="400.12" width="4.7" height="4.7" fill="#000"/>
<rect x="339.89" y="406.98" width="4.7" height="4.7" fill="#000"/>
<rect x="348.69" y="416.45" width="4.7" height="4.7" fill="#000"/>
<rect x="357.5" y="424.73" width="4.7" height="4.7" fill="#000"/>
<rect x="366.3" y="431.83" width="4.7" height="4.7" fill="#000"/>
<rect x="375.1" y="437.04" width="4.7" height="4.7" fill="#000"/>
<rect x="383.91" y="441.06" width="4.7" height="4.7" fill="#000"/>
<rect x="392.71" y="444.85" width="4.7" height="4.7" fill="#000"/>
<rect x="401.51" y="447.92" width="4.7" height="4.7" fill="#000"/>
<rect x="410.32" y="450.76" width="4.7" height="4.7" fill="#000"/>
<rect x="419.12" y="453.13" width="4.7" height="4.7" fill="#000"/>
<rect x="427.92" y="455.5" width="4.7" height="4.7" fill="#000"/>
<rect x="436.73" y="457.39" width="4.7" height="4.7" fill="#000"/>
<rect x="445.53" y="459.28" width="4.7" height="4.7" fill="#000"/>
<rect x="454.33" y="460.47" width="4.7" height="4.7" fill="#000"/>
<rect x="463.14" y="461.65" width="4.7" height="4.7" fill="#000"/>
<rect x="471.94" y="462.12" width="4.7" height="4.7" fill="#000"/>
<rect x="234.25" y="314.92" width="4.7" height="4.7" fill="#f00"/>
<rect x="243.05" y="320.12" width="4.7" height="4.7" fill="#f00"/>
<rect x="251.86" y="326.04" width="4.7" height="4.7" fill="#f00"/>
<rect x="260.66" y="332.19" width="4.7" height="4.7" fill="#f00"/>
<rect x="269.46" y="338.58" width="4.7" height="4.7" fill="#f00"/>
<rect x="278.27" y="345.45" width="4.7" height="4.7" fill="#f00"/>
<rect x="287.07" y="353.02" width="4.7" height="4.7" fill="#f00"/>
<rect x="295.87" y="361.07" width="4.7" height="4.7" fill="#f00"/>
<rect x="304.68" y="369.35" width="4.7" height="4.7" fill="#f00"/>
<rect x="313.48" y="377.87" width="4.7" height="4.7" fill="#f00"/>
<rect x="322.28" y="385.92" width="4.7" height="4.7" fill="#f00"/>
<rect x="331.09" y="394.44" width="4.7" height="4.7" fill="#f00"/>
<rect x="339.89" y="402.25" width="4.7" height="4.7" fill="#f00"/>
<rect x="348.69" y="410.06" width="4.7" height="4.7" fill="#f00"/>
<rect x="357.5" y="417.16" width="4.7" height="4.7" fill="#f00"/>
<rect x="366.3" y="423.78" width="4.7" height="4.7" fill="#f00"/>
<rect x="375.1" y="429.46" width="4.7" height="4.7" fill="#f00"/>
<rect x="383.91" y="434.43" width="4.7" height="4.7" fill="#f00"/>
<rect x="392.71" y="439.17" width="4.7" height="4.7" fill="#f00"/>
<rect x="401.51" y="443.43" width="4.7" height="4.7" fill="#f00"/>
<rect x="410.32" y="446.98" width="4.7" height="4.7" fill="#f00"/>
<rect x="419.12" y="450.05" width="4.7" height="4.7" fill="#f00"/>
<rect x="427.92" y="452.42" width="4.7" height="4.7" fill="#f00"/>
<rect x="436.73" y="454.55" width="4.7" height="4.7" fill="#f00"/>
<rect x="445.53" y="456.21" width="4.7" height="4.7" fill="#f00"/>
<rect x="454.33" y="457.39" width="4.7" height="4.7" fill="#f00"/>
<rect x="463.14" y="458.57" width="4.7" height="4.7" fill="#f00"/>
<rect x="471.94" y="459.76" width="4.7" height="4.7" fill="#f00"/>
<rect x="480.74" y="460.47" width="4.7" height="4.7" fill="#f00"/>
<rect x="489.55" y="460.7" width="4.7" height="4.7" fill="#f00"/>
<rect x="498.35" y="461.18" width="4.7" height="4.7" fill="#f00"/>
<rect x="234.25" y="425.6" width="4.7" height="4.7" fill="#0000f0"/>
<rect x="243.05" y="438.33" width="4.7" height="4.7" fill="#0000f0"/>
<rect x="251.86" y="449.62" width="4.7" height="4.7" fill="#0000f0"/>
<rect x="260.66" y="456.01" width="4.7" height="4.7" fill="#0000f0"/>
<rect x="269.46" y="456.8" width="4.7" height="4.7" fill="#0000f0"/>
<rect x="278.27" y="457.6" width="4.7" height="4.7" fill="#0000f0"/>
<rect x="287.07" y="467.99" width="4.7" height="4.7" fill="#0000f0"/>
<rect x="295.87" y="472.19" width="4.7" height="4.7" fill="#0000f0"/>
<rect x="304.68" y="488.27" width="4.7" height="4.7" fill="#0000f0"/>
<rect x="313.48" y="490.35" width="4.7" height="4.7" fill="#0000f0"/>
<rect x="322.28" y="477.62" width="4.7" height="4.7" fill="#0000f0"/>
<rect x="331.09" y="474.43" width="4.7" height="4.7" fill="#0000f0"/>
<rect x="339.89" y="477.47" width="4.7" height="4.7" fill="#0000f0"/>
<rect x="348.69" y="467.08" width="4.7" height="4.7" fill="#0000f0"/>
<rect x="357.5" y="450.68" width="4.7" height="4.7" fill="#0000f0"/>
<rect x="366.3" y="445.41" width="4.7" height="4.7" fill="#0000f0"/>
<rect x="375.1" y="445.89" width="4.7" height="4.7" fill="#0000f0"/>
<rect x="383.91" y="451.91" width="4.7" height="4.7" fill="#0000f0"/>
<rect x="392.71" y="453.29" width="4.7" height="4.7" fill="#0000f0"/>
<rect x="401.51" y="463.57" width="4.7" height="4.7" fill="#0000f0"/>
<rect x="410.32" y="471.39" width="4.7" height="4.7" fill="#0000f0"/>
<rect x="419.12" y="476.88" width="4.7" height="4.7" fill="#0000f0"/>
<rect x="427.92" y="479.65" width="4.7" height="4.7" fill="#0000f0"/>
<rect x="436.73" y="477.09" width="4.7" height="4.7" fill="#0000f0"/>
<rect x="445.53" y="469.37" width="4.7" height="4.7" fill="#0000f0"/>
<rect x="454.33" y="470.6" width="4.7" height="4.7" fill="#0000f0"/>
<rect x="463.14" y="468.57" width="4.7" height="4.7" fill="#0000f0"/>
<rect x="471.94" y="480.29" width="4.7" height="4.7" fill="#0000f0"/>
<rect x="480.74" y="493.07" width="4.7" height="4.7" fill="#0000f0"/>
<rect x="489.55" y="503.45" width="4.7" height="4.7" fill="#0000f0"/>
<rect x="498.35" y="495.04" width="4.7" height="4.7" fill="#0000f0"/>
<line x1="236.6" y1="506.6" x2="240.6" y2="506.6" stroke="#3c3c3c" stroke-width="1"/>
<line x1="236.6" y1="494.77" x2="238.6" y2="494.77" stroke="#3c3c3c" stroke-width="1"/>
<line x1="236.6" y1="482.93" x2="240.6" y2="482.93" stroke="#3c3c3c" stroke-width="1"/>
<line x1="236.6" y1="471.1" x2="238.6" y2="471.1" stroke="#3c3c3c" stroke-width="1"/>
<line x1="236.6" y1="459.27" x2="240.6" y2="459.27" stroke="#3c3c3c" stroke-width="1"/>
<line x1="236.6" y1="447.43" x2="238.6" y2="447.43" stroke="#3c3c3c" stroke-width="1"/>
<line x1="236.6" y1="435.6" x2="240.6" y2="435.6" stroke="#3c3c3c" stroke-width="1"/>
<line x1="236.6" y1="423.77" x2="238.6" y2="423.77" stroke="#3c3c3c" stroke-width="1"/>
<line x1="236.6" y1="411.93" x2="240.6" y2="411.93" stroke="#3c3c3c" stroke-width="1"/>
<line x1="236.6" y1="400.1" x2="238.6" y2="400.1" stroke="#3c3c3c" stroke-width="1"/>
<line x1="236.6" y1="388.27" x2="240.6" y2="388.27" stroke="#3c3c3c" stroke-width="1"/>
<line x1="236.6" y1="376.43" x2="238.6" y2="376.43" stroke="#3c3c3c" stroke-width="1"/>
<line x1="236.6" y1="364.6" x2="240.6" y2="364.6" stroke="#3c3c3c" stroke-width="1"/>
<line x1="236.6" y1="352.77" x2="238.6" y2="352.77" stroke="#3c3c3c" stroke-width="1"/>
<line x1="236.6" y1="340.93" x2="240.6" y2="340.93" stroke="#3c3c3c" stroke-width="1"/>
<line x1="236.6" y1="329.1" x2="238.6" y2="329.1" stroke="#3c3c3c" stroke-width="1"/>
<line x1="236.6" y1="317.27" x2="240.6" y2="317.27" stroke="#3c3c3c" stroke-width="1"/>
<line x1="236.6" y1="305.43" x2="238.6" y2="305.43" stroke="#3c3c3c" stroke-width="1"/>
<line x1="236.6" y1="293.6" x2="240.6" y2="293.6" stroke="#3c3c3c" stroke-width="1"/>
<line x1="236.6" y1="506.6" x2="236.6" y2="502.6" stroke="#3c3c3c" stroke-width="1"/>
<line x1="253.11" y1="506.6" x2="253.11" y2="504.6" stroke="#3c3c3c" stroke-width="1"/>
<line x1="269.61" y1="506.6" x2="269.61" y2="502.6" stroke="#3c3c3c" stroke-width="1"/>
<line x1="286.12" y1="506.6" x2="286.12" y2="504.6" stroke="#3c3c3c" stroke-width="1"/>
<line x1="302.62" y1="506.6" x2="302.62" y2="502.6" stroke="#3c3c3c" stroke-width="1"/>
<line x1="319.13" y1="506.6" x2="319.13" y2="504.6" stroke="#3c3c3c" stroke-width="1"/>
<line x1="335.64" y1="506.6" x2="335.64" y2="502.6" stroke="#3c3c3c" stroke-width="1"/>
<line x1="352.14" y1="506.6" x2="352.14" y2="504.6" stroke="#3c3c3c" stroke-width="1"/>
<line x1="368.65" y1="506.6" x2="368.65" y2="502.6" stroke="#3c3c3c" stroke-width="1"/>
<line x1="385.16" y1="506.6" x2="385.16" y2="504.6" stroke="#3c3c3c" stroke-width="1"/>
<line x1="401.66" y1="506.6" x2="401.66" y2="502.6" stroke="#3c3c3c" stroke-width="1"/>
<line x1="418.17" y1="506.6" x2="418.17" y2="504.6" stroke="#3c3c3c" stroke-width="1"/>
<line x1="434.68" y1="506.6" x2="434.68" y2="502.6" stroke="#3c3c3c" stroke-width="1"/>
<line x1="451.18" y1="506.6" x2="451.18" y2="504.6" stroke="#3c3c3c" stroke-width="1"/>
<line x1="467.69" y1="506.6" x2="467.69" y2="502.6" stroke="#3c3c3c" stroke-width="1"/>
<line x1="484.19" y1="506.6" x2="484.19" y2="504.6" stroke="#3c3c3c" stroke-width="1"/>
<line x1="500.7" y1="506.6" x2="500.7" y2="502.6" stroke="#3c3c3c" stroke-width="1"/>
<line x1="500.7" y1="506.6" x2="496.7" y2="506.6" stroke="#2a2ac8" stroke-width="1"/>
<line x1="500.7" y1="493.29" x2="498.7" y2="493.29" stroke="#2a2ac8" stroke-width="1"/>
<line x1="500.7" y1="479.98" x2="496.7" y2="479.98" stroke="#2a2ac8" stroke-width="1"/>
<line x1="500.7" y1="466.66" x2="498.7" y2="466.66" stroke="#2a2ac8" stroke-width="1"/>
<line x1="500.7" y1="453.35" x2="496.7" y2="453.35" stroke="#2a2ac8" stroke-width="1"/>
<line x1="500.7" y1="440.04" x2="498.7" y2="440.04" stroke="#2a2ac8" stroke-width="1"/>
<line x1="500.7" y1="426.73" x2="496.7" y2="426.73" stroke="#2a2ac8" stroke-width="1"/>
<line x1="500.7" y1="413.41" x2="498.7" y2="413.41" stroke="#2a2ac8" stroke-width="1"/>
<line x1="500.7" y1="400.1" x2="496.7" y2="400.1" stroke="#2a2ac8" stroke-width="1"/>
<line x1="500.7" y1="386.79" x2="498.7" y2="386.79" stroke="#2a2ac8" stroke-width="1"/>
<line x1="500.7" y1="373.48" x2="496.7" y2="373.48" stroke="#2a2ac8" stroke-width="1"/>
<line x1="500.7" y1="360.16" x2="498.7" y2="360.16" stroke="#2a2ac8" stroke-width="1"/>
<line x1="500.7" y1="346.85" x2="496.7" y2="346.85" stroke="#2a2ac8" stroke-width="1"/>
<line x1="500.7" y1="333.54" x2="498.7" y2="333.54" stroke="#2a2ac8" stroke-width="1"/>
<line x1="500.7" y1="320.23" x2="496.7" y2="320.23" stroke="#2a2ac8" stroke-width="1"/>
<line x1="500.7" y1="306.91" x2="498.7" y2="306.91" stroke="#2a2ac8" stroke-width="1"/>
<line x1="500.7" y1="293.6" x2="496.7" y2="293.6" stroke="#2a2ac8" stroke-width="1"/>
<path d="M236.6 293.6V506.6H497.7" fill="none" stroke="#3c3c3c" stroke-width="1.5"/>
<path d="M236.6 293.6H497.7" fill="none" stroke="#474747" stroke-width="1.2"/>
<path d="M496.7 293.6H500.7V506.6H496.7" fill="none" stroke="#8888d8" stroke-width="1.7"/>
<text x="232.1" y="509.23" text-anchor="end" font-size="9.2" stroke="#1a1a1a">0.0</text>
<text x="232.1" y="485.56" text-anchor="end" font-size="9.2" stroke="#1a1a1a">0.1</text>
<text x="232.1" y="461.89" text-anchor="end" font-size="9.2" stroke="#1a1a1a">0.2</text>
<text x="232.1" y="438.23" text-anchor="end" font-size="9.2" stroke="#1a1a1a">0.3</text>
<text x="232.1" y="414.56" text-anchor="end" font-size="9.2" stroke="#1a1a1a">0.4</text>
<text x="232.1" y="390.89" text-anchor="end" font-size="9.2" stroke="#1a1a1a">0.5</text>
<text x="232.1" y="367.23" text-anchor="end" font-size="9.2" stroke="#1a1a1a">0.6</text>
<text x="232.1" y="343.56" text-anchor="end" font-size="9.2" stroke="#1a1a1a">0.7</text>
<text x="232.1" y="319.89" text-anchor="end" font-size="9.2" stroke="#1a1a1a">0.8</text>
<text x="232.1" y="296.23" text-anchor="end" font-size="9.2" stroke="#1a1a1a">0.9</text>
<text x="236.6" y="518.1" text-anchor="middle" font-size="9.2" stroke="#1a1a1a">0.0</text>
<text x="269.61" y="518.1" text-anchor="middle" font-size="9.2" stroke="#1a1a1a">0.5</text>
<text x="302.62" y="518.1" text-anchor="middle" font-size="9.2" stroke="#1a1a1a">1.0</text>
<text x="335.64" y="518.1" text-anchor="middle" font-size="9.2" stroke="#1a1a1a">1.5</text>
<text x="368.65" y="518.1" text-anchor="middle" font-size="9.2" stroke="#1a1a1a">2.0</text>
<text x="401.66" y="518.1" text-anchor="middle" font-size="9.2" stroke="#1a1a1a">2.5</text>
<text x="434.68" y="518.1" text-anchor="middle" font-size="9.2" stroke="#1a1a1a">3.0</text>
<text x="467.69" y="518.1" text-anchor="middle" font-size="9.2" stroke="#1a1a1a">3.5</text>
<text x="500.7" y="518.1" text-anchor="middle" font-size="9.2" stroke="#1a1a1a">4.0</text>
<text x="505.5" y="509.63" font-size="9.2" stroke="#1a1a1a">0</text>
<text x="505.5" y="483" font-size="9.2" stroke="#1a1a1a">5</text>
<text x="505.5" y="456.38" font-size="9.2" stroke="#1a1a1a">10</text>
<text x="505.5" y="429.75" font-size="9.2" stroke="#1a1a1a">15</text>
<text x="505.5" y="403.13" font-size="9.2" stroke="#1a1a1a">20</text>
<text x="505.5" y="376.5" font-size="9.2" stroke="#1a1a1a">25</text>
<text x="505.5" y="349.88" font-size="9.2" stroke="#1a1a1a">30</text>
<text x="505.5" y="323.25" font-size="9.2" stroke="#1a1a1a">35</text>
<text x="505.5" y="296.63" font-size="9.2" stroke="#1a1a1a">40</text>
<text x="369" y="536.1" text-anchor="middle" font-size="11.1" stroke="#1a1a1a">Distance from surface/mm</text>
<text transform="translate(216.8 400.3) rotate(-90)" text-anchor="middle" font-size="11" font-family='"Liberation Serif", serif' stroke="#1a1a1a">Carbon content/%</text>
<text transform="translate(526.2 400.4) rotate(-90)" text-anchor="middle" font-size="11.3" font-family='"Liberation Serif", serif' fill="#1c1cd0" stroke="#1c1cd0">Percentage error/%</text>
<line x1="409.9" y1="304.6" x2="431.9" y2="304.6" stroke="#e2e2e2" stroke-width="0.9"/>
<rect x="419.1" y="302.2" width="4.8" height="4.8" fill="#000"/>
<text x="438.5" y="308.8" font-size="11" fill="#111" stroke="#111">Experiment</text>
<line x1="409.9" y1="318.1" x2="431.9" y2="318.1" stroke="#e8e8e8" stroke-width="0.9"/>
<rect x="419.1" y="315.7" width="4.8" height="4.8" fill="#f00"/>
<text x="438.5" y="322" font-size="11" fill="#111" stroke="#111">Simulation</text>
<line x1="409.9" y1="333.4" x2="431.9" y2="333.4" stroke="#bdbdbd" stroke-width="0.9"/>
<rect x="419.1" y="331" width="4.8" height="4.8" fill="#0000f0"/>
<text x="438.5" y="337.2" font-size="11" fill="#1c1cc8" stroke="#1c1cc8">Error</text>
<text x="300.6" y="563.4" font-size="20" word-spacing="1.8" stroke="#1a1a1a">(c) Process 3</text>
</svg></body></html>
